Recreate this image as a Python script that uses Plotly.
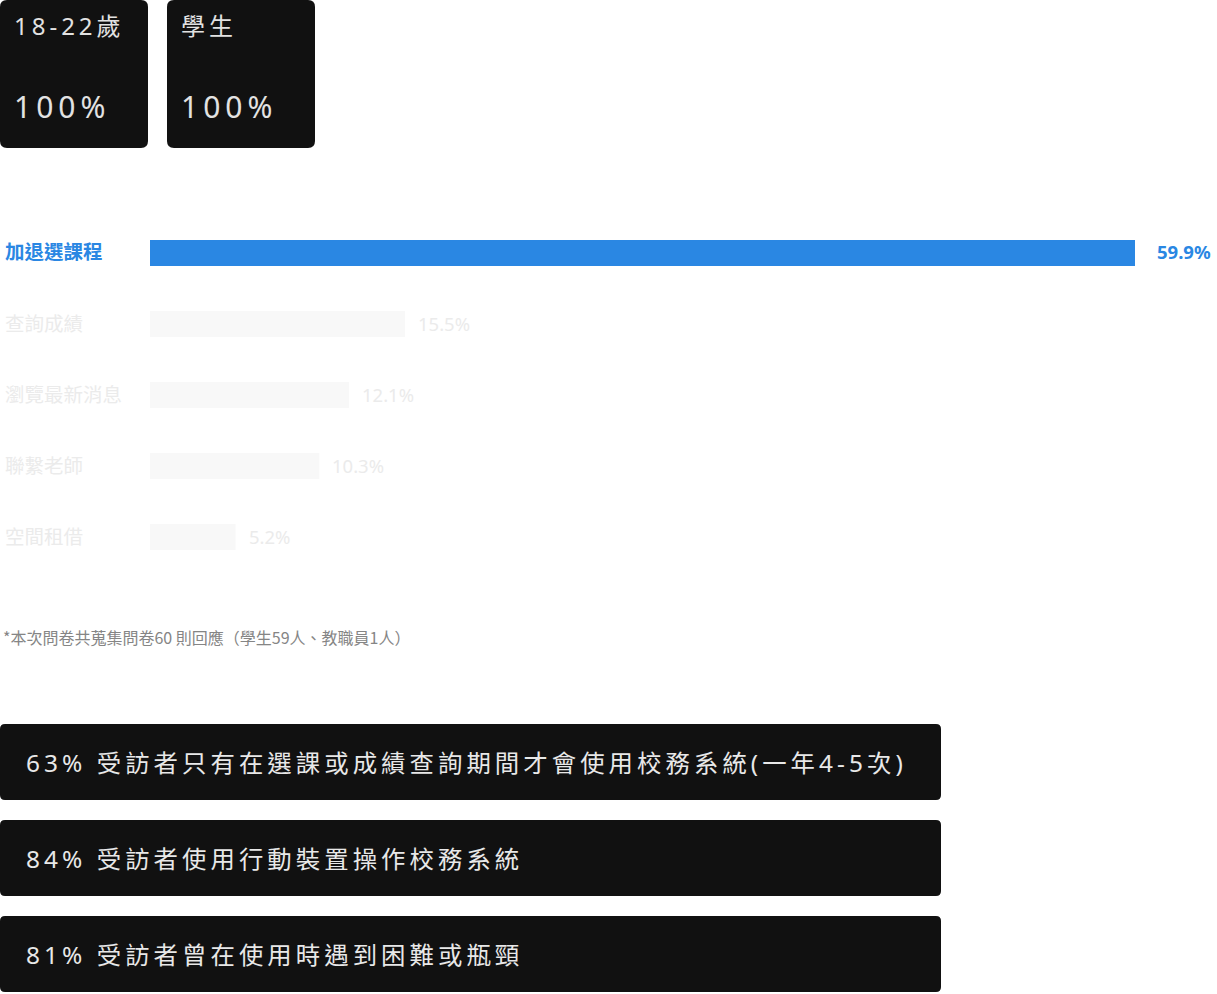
import plotly.graph_objects as go

W, H = 1217, 994

# ---- data ----
categories = ["加退選課程", "查詢成績", "瀏覽最新消息", "聯繫老師", "空間租借"]
values = [59.9, 15.5, 12.1, 10.3, 5.2]
value_labels = ["59.9%", "15.5%", "12.1%", "10.3%", "5.2%"]

card_titles = ["18-22歲", "學生"]
card_values = ["100%", "100%"]

footnote = "*本次問卷共蒐集問卷60 則回應（學生59人、教職員1人）"

insights = [
    "63% 受訪者只有在選課或成績查詢期間才會使用校務系統(一年4-5次)",
    "84% 受訪者使用行動裝置操作校務系統",
    "81% 受訪者曾在使用時遇到困難或瓶頸",
]

FONT = "Noto Sans CJK TC, Noto Sans, sans-serif"
FONT_LAT = "Noto Sans, Noto Sans CJK TC, sans-serif"
BLUE = "#2a87e3"
FAINT_BAR = "#f8f8f8"
FAINT_TXT = "#ebebeb"
DARK = "#111111"


def px(x):
    return x / W


def py(y):
    return 1 - y / H


def spaced(s, sp="\u2009"):
    return sp.join(list(s))


def rrect(x0, y0, x1, y1, r):
    pts = [
        f"M {px(x0 + r)},{py(y0)}",
        f"L {px(x1 - r)},{py(y0)}",
        f"Q {px(x1)},{py(y0)} {px(x1)},{py(y0 + r)}",
        f"L {px(x1)},{py(y1 - r)}",
        f"Q {px(x1)},{py(y1)} {px(x1 - r)},{py(y1)}",
        f"L {px(x0 + r)},{py(y1)}",
        f"Q {px(x0)},{py(y1)} {px(x0)},{py(y1 - r)}",
        f"L {px(x0)},{py(y0 + r)}",
        f"Q {px(x0)},{py(y0)} {px(x0 + r)},{py(y0)}",
        "Z",
    ]
    return " ".join(pts)


bar_colors = [BLUE] + [FAINT_BAR] * (len(values) - 1)

fig = go.Figure(
    go.Bar(
        x=values,
        y=categories,
        orientation="h",
        marker=dict(color=bar_colors, line=dict(width=0)),
        width=0.366,
        hoverinfo="skip",
    )
)

scale = 985 / 59.9  # px per unit
xmax = (W - 150) / scale

fig.update_layout(
    width=W,
    height=H,
    margin=dict(l=0, r=0, t=0, b=0),
    paper_bgcolor="white",
    plot_bgcolor="white",
    showlegend=False,
    font=dict(family=FONT),
    xaxis=dict(domain=[150 / W, 1], range=[0, xmax], visible=False, fixedrange=True),
    yaxis=dict(
        domain=[py(572.5), py(217.5)],
        autorange="reversed",
        visible=False,
        fixedrange=True,
    ),
)

shapes = []
annotations = []

for i, (c, v, lab) in enumerate(zip(categories, values, value_labels)):
    first = i == 0
    annotations.append(
        dict(
            x=px(2.5), xref="paper", y=c, yref="y", xanchor="left", yanchor="middle",
            yshift=2,
            text=f"<b>{c}</b>" if first else c, showarrow=False,
            font=dict(size=19.5, color=BLUE if first else FAINT_TXT, family=FONT),
        )
    )
    annotations.append(
        dict(
            x=v, xref="x", y=c, yref="y", xanchor="left", yanchor="middle",
            xshift=20 if first else 11, yshift=1,
            text=f"<b>{lab}</b>" if first else lab, showarrow=False,
            font=dict(size=18.5, color=BLUE if first else FAINT_TXT, family=FONT_LAT),
        )
    )

card_x = [0, 167]
for x0, t, v in zip(card_x, card_titles, card_values):
    shapes.append(dict(type="path", xref="paper", yref="paper",
                       path=rrect(x0, 0, x0 + 148, 148, 7),
                       fillcolor=DARK, line=dict(width=0), layer="below"))
    annotations.append(dict(x=px(x0 + 12), y=py(25), xref="paper", yref="paper",
                            xanchor="left", yanchor="middle", showarrow=False,
                            text=spaced(t), font=dict(size=24, color="#e2e2e2", family=FONT_LAT)))
    annotations.append(dict(x=px(x0 + 12), y=py(106), xref="paper", yref="paper",
                            xanchor="left", yanchor="middle", showarrow=False,
                            text=spaced(v), font=dict(size=30, color="#e2e2e2", family=FONT_LAT)))

annotations.append(dict(x=px(1), y=py(637), xref="paper", yref="paper",
                        xanchor="left", yanchor="middle", showarrow=False,
                        text=footnote, font=dict(size=16, color="#858585", family=FONT)))

box_tops = [724, 820, 916]
for y0, t in zip(box_tops, insights):
    shapes.append(dict(type="path", xref="paper", yref="paper",
                       path=rrect(0, y0, 941, y0 + 76, 5),
                       fillcolor=DARK, line=dict(width=0), layer="below"))
    annotations.append(dict(x=px(24), y=py(y0 + 38), xref="paper", yref="paper",
                            xanchor="left", yanchor="middle", showarrow=False,
                            text=spaced(t), font=dict(size=24.4, color="#e8e8e8", family=FONT_LAT)))

fig.update_layout(shapes=shapes, annotations=annotations)

fig.write_html("out.html", config={"displayModeBar": False},
               post_script="document.body.style.margin='0';document.body.style.overflow='hidden';")
